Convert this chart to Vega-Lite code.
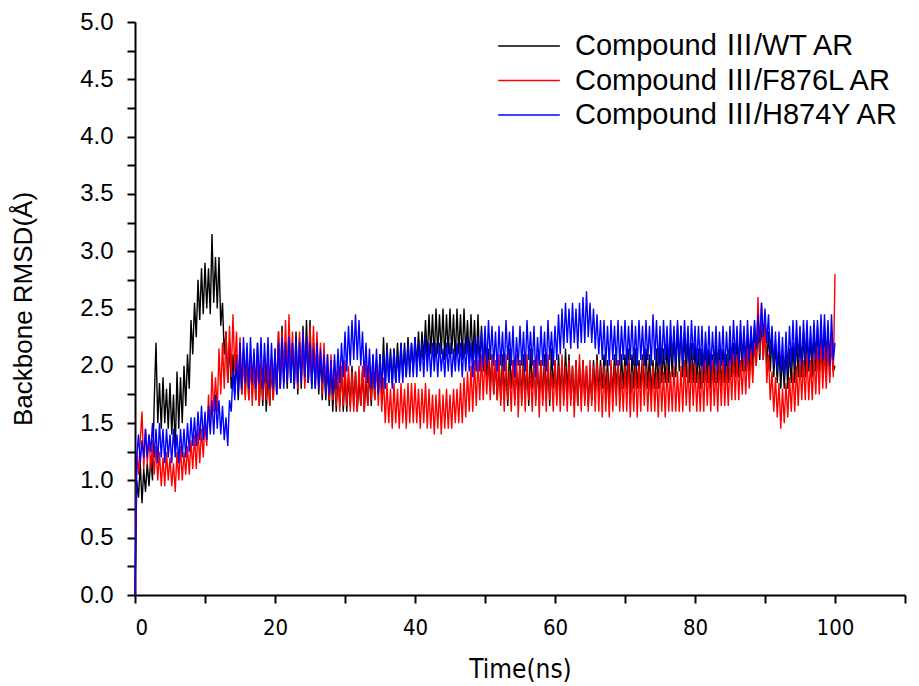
{
"$schema": "https://vega.github.io/schema/vega-lite/v6.json",
"width": 770, "height": 573,
"autosize": {"type": "none"},
"padding": {"left": 135, "top": 22, "right": 14, "bottom": 91},
"config": {"view": {"stroke": null}, "font": "Liberation Sans"},
"data": {"values": [
{"t":0,"a":0,"b":0,"c":0},
{"t":0.25,"a":1.0,"b":1.25,"c":1.2},
{"t":0.5,"a":0.85,"b":1.05,"c":1.4},
{"t":0.75,"a":1.15,"b":1.35,"c":1.15},
{"t":1,"a":0.8,"b":1.6,"c":1.35},
{"t":1.25,"a":1.1,"b":1.1,"c":1.2},
{"t":1.5,"a":0.9,"b":1.45,"c":1.45},
{"t":1.75,"a":1.15,"b":1.15,"c":1.2},
{"t":2,"a":0.95,"b":1.4,"c":1.4},
{"t":2.25,"a":1.2,"b":1.1,"c":1.25},
{"t":2.5,"a":1.0,"b":1.35,"c":1.5},
{"t":2.75,"a":1.7,"b":1.05,"c":1.2},
{"t":3,"a":2.2,"b":1.3,"c":1.45},
{"t":3.25,"a":1.5,"b":1.0,"c":1.15},
{"t":3.5,"a":1.85,"b":1.25,"c":1.5},
{"t":3.75,"a":1.45,"b":0.95,"c":1.2},
{"t":4,"a":1.9,"b":1.2,"c":1.45},
{"t":4.25,"a":1.5,"b":0.95,"c":1.15},
{"t":4.5,"a":1.8,"b":1.25,"c":1.45},
{"t":4.75,"a":1.45,"b":1.0,"c":1.2},
{"t":5,"a":1.85,"b":1.2,"c":1.4},
{"t":5.25,"a":1.4,"b":0.95,"c":1.15},
{"t":5.5,"a":1.75,"b":1.15,"c":1.45},
{"t":5.75,"a":1.25,"b":0.9,"c":1.2},
{"t":6,"a":1.95,"b":1.25,"c":1.4},
{"t":6.25,"a":1.45,"b":1.0,"c":1.15},
{"t":6.5,"a":1.9,"b":1.3,"c":1.45},
{"t":6.75,"a":1.5,"b":1.0,"c":1.2},
{"t":7,"a":2.0,"b":1.25,"c":1.45},
{"t":7.25,"a":1.65,"b":1.05,"c":1.2},
{"t":7.5,"a":2.1,"b":1.3,"c":1.5},
{"t":7.75,"a":1.8,"b":1.05,"c":1.25},
{"t":8,"a":2.4,"b":1.35,"c":1.55},
{"t":8.25,"a":2.1,"b":1.1,"c":1.3},
{"t":8.5,"a":2.55,"b":1.4,"c":1.55},
{"t":8.75,"a":2.25,"b":1.1,"c":1.3},
{"t":9,"a":2.75,"b":1.45,"c":1.6},
{"t":9.25,"a":2.4,"b":1.15,"c":1.35},
{"t":9.5,"a":2.85,"b":1.45,"c":1.65},
{"t":9.75,"a":2.45,"b":1.2,"c":1.35},
{"t":10,"a":2.9,"b":1.5,"c":1.6},
{"t":10.25,"a":2.5,"b":1.3,"c":1.35},
{"t":10.5,"a":2.85,"b":1.75,"c":1.65},
{"t":10.75,"a":2.45,"b":1.45,"c":1.4},
{"t":11,"a":3.15,"b":1.95,"c":1.7},
{"t":11.25,"a":2.55,"b":1.6,"c":1.4},
{"t":11.5,"a":2.95,"b":1.9,"c":1.75},
{"t":11.75,"a":2.5,"b":1.6,"c":1.45},
{"t":12,"a":2.95,"b":2.15,"c":1.7},
{"t":12.25,"a":2.35,"b":1.75,"c":1.4},
{"t":12.5,"a":2.55,"b":2.2,"c":1.65},
{"t":12.75,"a":2.1,"b":1.8,"c":1.35},
{"t":13,"a":2.3,"b":2.3,"c":1.55},
{"t":13.25,"a":1.85,"b":1.85,"c":1.3},
{"t":13.5,"a":2.2,"b":2.35,"c":1.7},
{"t":13.75,"a":1.8,"b":1.9,"c":1.6},
{"t":14,"a":2.1,"b":2.45,"c":1.95},
{"t":14.25,"a":1.75,"b":1.95,"c":1.7},
{"t":14.5,"a":2.1,"b":2.3,"c":2.05},
{"t":14.75,"a":1.7,"b":1.8,"c":1.75},
{"t":15,"a":2.05,"b":2.25,"c":2.2},
{"t":15.25,"a":1.75,"b":1.75,"c":1.8},
{"t":15.5,"a":2.15,"b":2.1,"c":2.25},
{"t":15.75,"a":1.75,"b":1.7,"c":1.85},
{"t":16,"a":2.1,"b":2.15,"c":2.2},
{"t":16.25,"a":1.7,"b":1.7,"c":1.8},
{"t":16.5,"a":2.05,"b":2.1,"c":2.25},
{"t":16.75,"a":1.75,"b":1.65,"c":1.85},
{"t":17,"a":2.1,"b":2.05,"c":2.15},
{"t":17.25,"a":1.7,"b":1.7,"c":1.8},
{"t":17.5,"a":2.2,"b":2.1,"c":2.2},
{"t":17.75,"a":1.65,"b":1.65,"c":1.85},
{"t":18,"a":2.0,"b":2.05,"c":2.25},
{"t":18.25,"a":1.65,"b":1.7,"c":1.8},
{"t":18.5,"a":2.05,"b":2.1,"c":2.2},
{"t":18.75,"a":1.6,"b":1.7,"c":1.85},
{"t":19,"a":1.95,"b":2.1,"c":2.25},
{"t":19.25,"a":1.65,"b":1.65,"c":1.8},
{"t":19.5,"a":2.0,"b":2.05,"c":2.2},
{"t":19.75,"a":1.7,"b":1.7,"c":1.8},
{"t":20,"a":2.1,"b":2.15,"c":2.15},
{"t":20.25,"a":1.75,"b":1.75,"c":1.75},
{"t":20.5,"a":2.3,"b":2.3,"c":2.2},
{"t":20.75,"a":1.8,"b":1.8,"c":1.8},
{"t":21,"a":2.35,"b":2.3,"c":2.25},
{"t":21.25,"a":1.85,"b":1.85,"c":1.8},
{"t":21.5,"a":2.2,"b":2.4,"c":2.2},
{"t":21.75,"a":1.8,"b":1.85,"c":1.85},
{"t":22,"a":2.35,"b":2.45,"c":2.25},
{"t":22.25,"a":1.85,"b":1.9,"c":1.85},
{"t":22.5,"a":2.2,"b":2.3,"c":2.2},
{"t":22.75,"a":1.8,"b":1.85,"c":1.8},
{"t":23,"a":2.3,"b":2.2,"c":2.25},
{"t":23.25,"a":1.75,"b":1.8,"c":1.85},
{"t":23.5,"a":2.25,"b":2.3,"c":2.2},
{"t":23.75,"a":1.8,"b":1.85,"c":1.85},
{"t":24,"a":2.35,"b":2.3,"c":2.3},
{"t":24.25,"a":1.85,"b":1.8,"c":1.9},
{"t":24.5,"a":2.4,"b":2.25,"c":2.25},
{"t":24.75,"a":1.85,"b":1.85,"c":1.85},
{"t":25,"a":2.4,"b":2.35,"c":2.2},
{"t":25.25,"a":1.8,"b":1.85,"c":1.8},
{"t":25.5,"a":2.2,"b":2.35,"c":2.15},
{"t":25.75,"a":1.8,"b":1.85,"c":1.8},
{"t":26,"a":2.2,"b":2.3,"c":2.2},
{"t":26.25,"a":1.75,"b":1.8,"c":1.8},
{"t":26.5,"a":2.1,"b":2.2,"c":2.15},
{"t":26.75,"a":1.7,"b":1.75,"c":1.85},
{"t":27,"a":2.1,"b":2.2,"c":2.1},
{"t":27.25,"a":1.7,"b":1.75,"c":1.75},
{"t":27.5,"a":2.0,"b":2.1,"c":2.1},
{"t":27.75,"a":1.65,"b":1.7,"c":1.75},
{"t":28,"a":2.0,"b":2.1,"c":2.05},
{"t":28.25,"a":1.6,"b":1.7,"c":1.75},
{"t":28.5,"a":1.95,"b":2.05,"c":2.1},
{"t":28.75,"a":1.6,"b":1.65,"c":1.8},
{"t":29,"a":1.95,"b":2.0,"c":2.15},
{"t":29.25,"a":1.65,"b":1.6,"c":1.85},
{"t":29.5,"a":2.0,"b":2.0,"c":2.2},
{"t":29.75,"a":1.6,"b":1.65,"c":1.9},
{"t":30,"a":1.95,"b":2.05,"c":2.3},
{"t":30.25,"a":1.6,"b":1.65,"c":1.95},
{"t":30.5,"a":1.9,"b":2.0,"c":2.35},
{"t":30.75,"a":1.65,"b":1.6,"c":2.0},
{"t":31,"a":2.0,"b":1.95,"c":2.4},
{"t":31.25,"a":1.65,"b":1.6,"c":2.05},
{"t":31.5,"a":1.95,"b":1.95,"c":2.45},
{"t":31.75,"a":1.6,"b":1.6,"c":2.05},
{"t":32,"a":1.9,"b":2.0,"c":2.4},
{"t":32.25,"a":1.65,"b":1.65,"c":2.0},
{"t":32.5,"a":1.95,"b":2.0,"c":2.3},
{"t":32.75,"a":1.6,"b":1.6,"c":1.9},
{"t":33,"a":1.9,"b":2.05,"c":2.2},
{"t":33.25,"a":1.65,"b":1.65,"c":1.85},
{"t":33.5,"a":1.95,"b":2.0,"c":2.15},
{"t":33.75,"a":1.65,"b":1.7,"c":1.8},
{"t":34,"a":2.0,"b":2.1,"c":2.1},
{"t":34.25,"a":1.7,"b":1.7,"c":1.8},
{"t":34.5,"a":2.05,"b":2.05,"c":2.15},
{"t":34.75,"a":1.75,"b":1.65,"c":1.75},
{"t":35,"a":2.1,"b":2.0,"c":2.1},
{"t":35.25,"a":1.75,"b":1.6,"c":1.8},
{"t":35.5,"a":2.25,"b":1.9,"c":2.1},
{"t":35.75,"a":1.8,"b":1.5,"c":1.8},
{"t":36,"a":2.2,"b":1.85,"c":2.15},
{"t":36.25,"a":1.85,"b":1.5,"c":1.85},
{"t":36.5,"a":2.15,"b":1.8,"c":2.1},
{"t":36.75,"a":1.85,"b":1.45,"c":1.8},
{"t":37,"a":2.15,"b":1.85,"c":2.15},
{"t":37.25,"a":1.85,"b":1.5,"c":1.85},
{"t":37.5,"a":2.2,"b":1.8,"c":2.1},
{"t":37.75,"a":1.9,"b":1.45,"c":1.85},
{"t":38,"a":2.2,"b":1.85,"c":2.2},
{"t":38.25,"a":1.9,"b":1.5,"c":1.85},
{"t":38.5,"a":2.2,"b":1.8,"c":2.15},
{"t":38.75,"a":1.9,"b":1.45,"c":1.9},
{"t":39,"a":2.25,"b":1.85,"c":2.2},
{"t":39.25,"a":1.95,"b":1.5,"c":1.9},
{"t":39.5,"a":2.2,"b":1.85,"c":2.2},
{"t":39.75,"a":1.95,"b":1.5,"c":1.9},
{"t":40,"a":2.25,"b":1.85,"c":2.25},
{"t":40.25,"a":2.0,"b":1.5,"c":1.9},
{"t":40.5,"a":2.3,"b":1.8,"c":2.2},
{"t":40.75,"a":2.0,"b":1.45,"c":1.95},
{"t":41,"a":2.3,"b":1.8,"c":2.2},
{"t":41.25,"a":2.05,"b":1.5,"c":1.9},
{"t":41.5,"a":2.4,"b":1.85,"c":2.25},
{"t":41.75,"a":2.05,"b":1.45,"c":1.95},
{"t":42,"a":2.45,"b":1.8,"c":2.2},
{"t":42.25,"a":2.1,"b":1.45,"c":1.9},
{"t":42.5,"a":2.45,"b":1.75,"c":2.2},
{"t":42.75,"a":2.05,"b":1.4,"c":1.95},
{"t":43,"a":2.5,"b":1.75,"c":2.2},
{"t":43.25,"a":2.1,"b":1.45,"c":1.9},
{"t":43.5,"a":2.45,"b":1.8,"c":2.2},
{"t":43.75,"a":2.1,"b":1.4,"c":1.95},
{"t":44,"a":2.5,"b":1.75,"c":2.15},
{"t":44.25,"a":2.05,"b":1.45,"c":1.9},
{"t":44.5,"a":2.45,"b":1.8,"c":2.2},
{"t":44.75,"a":2.1,"b":1.45,"c":1.95},
{"t":45,"a":2.5,"b":1.75,"c":2.2},
{"t":45.25,"a":2.1,"b":1.45,"c":1.9},
{"t":45.5,"a":2.45,"b":1.8,"c":2.15},
{"t":45.75,"a":2.05,"b":1.5,"c":1.95},
{"t":46,"a":2.5,"b":1.8,"c":2.2},
{"t":46.25,"a":2.1,"b":1.5,"c":1.95},
{"t":46.5,"a":2.45,"b":1.85,"c":2.2},
{"t":46.75,"a":2.05,"b":1.5,"c":1.9},
{"t":47,"a":2.5,"b":1.9,"c":2.2},
{"t":47.25,"a":2.1,"b":1.55,"c":1.95},
{"t":47.5,"a":2.4,"b":1.95,"c":2.25},
{"t":47.75,"a":2.05,"b":1.6,"c":1.95},
{"t":48,"a":2.45,"b":2.0,"c":2.2},
{"t":48.25,"a":2.05,"b":1.6,"c":1.9},
{"t":48.5,"a":2.4,"b":2.05,"c":2.25},
{"t":48.75,"a":2.0,"b":1.65,"c":1.95},
{"t":49,"a":2.45,"b":2.05,"c":2.25},
{"t":49.25,"a":2.0,"b":1.7,"c":1.95},
{"t":49.5,"a":2.35,"b":2.1,"c":2.3},
{"t":49.75,"a":1.95,"b":1.7,"c":2.0},
{"t":50,"a":2.3,"b":2.1,"c":2.35},
{"t":50.25,"a":1.9,"b":1.75,"c":2.0},
{"t":50.5,"a":2.15,"b":2.05,"c":2.4},
{"t":50.75,"a":1.8,"b":1.7,"c":2.05},
{"t":51,"a":2.1,"b":2.1,"c":2.35},
{"t":51.25,"a":1.75,"b":1.75,"c":2.0},
{"t":51.5,"a":2.05,"b":2.05,"c":2.3},
{"t":51.75,"a":1.7,"b":1.7,"c":1.95},
{"t":52,"a":2.05,"b":2.1,"c":2.35},
{"t":52.25,"a":1.7,"b":1.65,"c":2.0},
{"t":52.5,"a":2.1,"b":2.0,"c":2.3},
{"t":52.75,"a":1.75,"b":1.6,"c":1.95},
{"t":53,"a":2.0,"b":2.1,"c":2.4},
{"t":53.25,"a":1.65,"b":1.7,"c":2.05},
{"t":53.5,"a":2.15,"b":1.95,"c":2.3},
{"t":53.75,"a":1.8,"b":1.6,"c":2.0},
{"t":54,"a":2.05,"b":2.05,"c":2.35},
{"t":54.25,"a":1.7,"b":1.65,"c":1.9},
{"t":54.5,"a":1.95,"b":2.1,"c":2.25},
{"t":54.75,"a":1.75,"b":1.55,"c":2.0},
{"t":55,"a":2.05,"b":2.05,"c":2.35},
{"t":55.25,"a":1.7,"b":1.65,"c":2.0},
{"t":55.5,"a":2.1,"b":2.0,"c":2.3},
{"t":55.75,"a":1.75,"b":1.6,"c":1.95},
{"t":56,"a":2.0,"b":2.1,"c":2.4},
{"t":56.25,"a":1.65,"b":1.7,"c":2.05},
{"t":56.5,"a":2.15,"b":1.95,"c":2.3},
{"t":56.75,"a":1.8,"b":1.6,"c":2.0},
{"t":57,"a":2.05,"b":2.05,"c":2.35},
{"t":57.25,"a":1.7,"b":1.65,"c":1.9},
{"t":57.5,"a":1.95,"b":2.1,"c":2.25},
{"t":57.75,"a":1.75,"b":1.55,"c":2.0},
{"t":58,"a":2.05,"b":2.05,"c":2.35},
{"t":58.25,"a":1.7,"b":1.65,"c":2.0},
{"t":58.5,"a":2.1,"b":2.0,"c":2.3},
{"t":58.75,"a":1.75,"b":1.6,"c":1.95},
{"t":59,"a":2.0,"b":2.1,"c":2.4},
{"t":59.25,"a":1.65,"b":1.7,"c":2.05},
{"t":59.5,"a":2.15,"b":1.95,"c":2.3},
{"t":59.75,"a":1.8,"b":1.6,"c":2.0},
{"t":60,"a":2.05,"b":2.05,"c":2.35},
{"t":60.25,"a":1.7,"b":1.65,"c":2.05},
{"t":60.5,"a":2.1,"b":2.0,"c":2.45},
{"t":60.75,"a":1.75,"b":1.6,"c":2.1},
{"t":61,"a":2.05,"b":2.1,"c":2.5},
{"t":61.25,"a":1.7,"b":1.65,"c":2.15},
{"t":61.5,"a":2.15,"b":2.0,"c":2.55},
{"t":61.75,"a":1.75,"b":1.6,"c":2.2},
{"t":62,"a":2.1,"b":2.05,"c":2.5},
{"t":62.25,"a":1.7,"b":1.65,"c":2.15},
{"t":62.5,"a":2.0,"b":2.0,"c":2.55},
{"t":62.75,"a":1.65,"b":1.55,"c":2.2},
{"t":63,"a":2.05,"b":2.05,"c":2.5},
{"t":63.25,"a":1.65,"b":1.65,"c":2.15},
{"t":63.5,"a":2.0,"b":2.1,"c":2.55},
{"t":63.75,"a":1.7,"b":1.6,"c":2.2},
{"t":64,"a":2.05,"b":2.05,"c":2.6},
{"t":64.25,"a":1.7,"b":1.65,"c":2.2},
{"t":64.5,"a":2.0,"b":2.0,"c":2.65},
{"t":64.75,"a":1.65,"b":1.6,"c":2.25},
{"t":65,"a":1.95,"b":2.05,"c":2.55},
{"t":65.25,"a":1.7,"b":1.65,"c":2.2},
{"t":65.5,"a":2.05,"b":2.0,"c":2.5},
{"t":65.75,"a":1.75,"b":1.6,"c":2.15},
{"t":66,"a":2.1,"b":2.05,"c":2.45},
{"t":66.25,"a":1.75,"b":1.6,"c":2.1},
{"t":66.5,"a":2.05,"b":2.0,"c":2.4},
{"t":66.75,"a":1.8,"b":1.55,"c":2.05},
{"t":67,"a":2.1,"b":2.0,"c":2.4},
{"t":67.25,"a":1.75,"b":1.6,"c":2.0},
{"t":67.5,"a":2.05,"b":1.95,"c":2.35},
{"t":67.75,"a":1.7,"b":1.55,"c":2.0},
{"t":68,"a":2.0,"b":2.05,"c":2.4},
{"t":68.25,"a":1.75,"b":1.6,"c":2.05},
{"t":68.5,"a":2.1,"b":2.0,"c":2.35},
{"t":68.75,"a":1.8,"b":1.65,"c":2.0},
{"t":69,"a":2.05,"b":2.05,"c":2.4},
{"t":69.25,"a":1.75,"b":1.6,"c":2.0},
{"t":69.5,"a":2.1,"b":1.95,"c":2.35},
{"t":69.75,"a":1.8,"b":1.6,"c":2.05},
{"t":70,"a":2.1,"b":2.0,"c":2.4},
{"t":70.25,"a":1.8,"b":1.6,"c":2.0},
{"t":70.5,"a":2.15,"b":2.05,"c":2.35},
{"t":70.75,"a":1.75,"b":1.55,"c":2.05},
{"t":71,"a":2.1,"b":1.95,"c":2.4},
{"t":71.25,"a":1.8,"b":1.6,"c":2.0},
{"t":71.5,"a":2.15,"b":2.0,"c":2.35},
{"t":71.75,"a":1.8,"b":1.55,"c":2.0},
{"t":72,"a":2.05,"b":2.0,"c":2.4},
{"t":72.25,"a":1.8,"b":1.6,"c":2.05},
{"t":72.5,"a":2.1,"b":2.05,"c":2.35},
{"t":72.75,"a":1.75,"b":1.65,"c":2.0},
{"t":73,"a":2.15,"b":2.0,"c":2.4},
{"t":73.25,"a":1.8,"b":1.6,"c":2.05},
{"t":73.5,"a":2.1,"b":1.95,"c":2.35},
{"t":73.75,"a":1.75,"b":1.6,"c":2.0},
{"t":74,"a":2.05,"b":2.0,"c":2.45},
{"t":74.25,"a":1.8,"b":1.6,"c":2.05},
{"t":74.5,"a":2.15,"b":1.95,"c":2.4},
{"t":74.75,"a":1.8,"b":1.55,"c":2.0},
{"t":75,"a":2.2,"b":2.0,"c":2.35},
{"t":75.25,"a":1.85,"b":1.6,"c":2.0},
{"t":75.5,"a":2.15,"b":1.95,"c":2.4},
{"t":75.75,"a":1.85,"b":1.55,"c":2.05},
{"t":76,"a":2.2,"b":2.0,"c":2.35},
{"t":76.25,"a":1.85,"b":1.6,"c":2.0},
{"t":76.5,"a":2.25,"b":1.95,"c":2.4},
{"t":76.75,"a":1.9,"b":1.6,"c":2.05},
{"t":77,"a":2.3,"b":2.0,"c":2.35},
{"t":77.25,"a":1.9,"b":1.6,"c":2.0},
{"t":77.5,"a":2.35,"b":1.95,"c":2.4},
{"t":77.75,"a":1.95,"b":1.6,"c":2.05},
{"t":78,"a":2.35,"b":2.0,"c":2.35},
{"t":78.25,"a":1.9,"b":1.6,"c":2.0},
{"t":78.5,"a":2.3,"b":2.05,"c":2.4},
{"t":78.75,"a":1.9,"b":1.65,"c":2.05},
{"t":79,"a":2.25,"b":2.0,"c":2.35},
{"t":79.25,"a":1.85,"b":1.6,"c":2.0},
{"t":79.5,"a":2.2,"b":2.05,"c":2.4},
{"t":79.75,"a":1.85,"b":1.65,"c":2.05},
{"t":80,"a":2.2,"b":2.0,"c":2.35},
{"t":80.25,"a":1.85,"b":1.6,"c":2.0},
{"t":80.5,"a":2.15,"b":1.95,"c":2.35},
{"t":80.75,"a":1.8,"b":1.6,"c":2.0},
{"t":81,"a":2.15,"b":2.0,"c":2.35},
{"t":81.25,"a":1.85,"b":1.6,"c":1.95},
{"t":81.5,"a":2.2,"b":2.05,"c":2.3},
{"t":81.75,"a":1.85,"b":1.65,"c":2.0},
{"t":82,"a":2.15,"b":2.0,"c":2.35},
{"t":82.25,"a":1.8,"b":1.6,"c":1.95},
{"t":82.5,"a":2.1,"b":2.05,"c":2.3},
{"t":82.75,"a":1.85,"b":1.65,"c":2.0},
{"t":83,"a":2.2,"b":2.0,"c":2.35},
{"t":83.25,"a":1.85,"b":1.6,"c":1.95},
{"t":83.5,"a":2.15,"b":2.05,"c":2.3},
{"t":83.75,"a":1.8,"b":1.65,"c":2.0},
{"t":84,"a":2.15,"b":2.05,"c":2.35},
{"t":84.25,"a":1.85,"b":1.65,"c":1.95},
{"t":84.5,"a":2.1,"b":2.0,"c":2.3},
{"t":84.75,"a":1.85,"b":1.65,"c":2.0},
{"t":85,"a":2.2,"b":2.05,"c":2.35},
{"t":85.25,"a":1.9,"b":1.7,"c":2.0},
{"t":85.5,"a":2.2,"b":2.1,"c":2.4},
{"t":85.75,"a":1.9,"b":1.7,"c":2.05},
{"t":86,"a":2.25,"b":2.1,"c":2.35},
{"t":86.25,"a":1.9,"b":1.7,"c":2.0},
{"t":86.5,"a":2.3,"b":2.05,"c":2.4},
{"t":86.75,"a":1.95,"b":1.75,"c":2.05},
{"t":87,"a":2.3,"b":2.1,"c":2.35},
{"t":87.25,"a":1.95,"b":1.75,"c":2.0},
{"t":87.5,"a":2.25,"b":2.15,"c":2.4},
{"t":87.75,"a":1.9,"b":1.8,"c":2.05},
{"t":88,"a":2.3,"b":2.15,"c":2.35},
{"t":88.25,"a":1.95,"b":1.85,"c":2.1},
{"t":88.5,"a":2.35,"b":2.2,"c":2.4},
{"t":88.75,"a":2.0,"b":2.0,"c":2.15},
{"t":89,"a":2.35,"b":2.6,"c":2.45},
{"t":89.25,"a":2.05,"b":2.1,"c":2.2},
{"t":89.5,"a":2.4,"b":2.55,"c":2.55},
{"t":89.75,"a":2.05,"b":2.05,"c":2.25},
{"t":90,"a":2.35,"b":2.4,"c":2.5},
{"t":90.25,"a":2.0,"b":1.85,"c":2.2},
{"t":90.5,"a":2.3,"b":2.1,"c":2.45},
{"t":90.75,"a":1.95,"b":1.7,"c":2.1},
{"t":91,"a":2.25,"b":1.95,"c":2.35},
{"t":91.25,"a":1.9,"b":1.6,"c":2.0},
{"t":91.5,"a":2.2,"b":1.9,"c":2.3},
{"t":91.75,"a":1.85,"b":1.55,"c":1.95},
{"t":92,"a":2.15,"b":1.85,"c":2.3},
{"t":92.25,"a":1.8,"b":1.45,"c":1.95},
{"t":92.5,"a":2.1,"b":1.8,"c":2.25},
{"t":92.75,"a":1.8,"b":1.5,"c":1.9},
{"t":93,"a":2.15,"b":1.85,"c":2.3},
{"t":93.25,"a":1.8,"b":1.55,"c":1.95},
{"t":93.5,"a":2.15,"b":1.9,"c":2.35},
{"t":93.75,"a":1.85,"b":1.6,"c":2.0},
{"t":94,"a":2.2,"b":1.95,"c":2.4},
{"t":94.25,"a":1.85,"b":1.6,"c":2.0},
{"t":94.5,"a":2.25,"b":2.0,"c":2.4},
{"t":94.75,"a":1.9,"b":1.65,"c":2.05},
{"t":95,"a":2.25,"b":2.05,"c":2.35},
{"t":95.25,"a":1.9,"b":1.7,"c":2.0},
{"t":95.5,"a":2.3,"b":2.05,"c":2.4},
{"t":95.75,"a":1.9,"b":1.7,"c":2.05},
{"t":96,"a":2.3,"b":2.1,"c":2.4},
{"t":96.25,"a":1.95,"b":1.7,"c":2.0},
{"t":96.5,"a":2.25,"b":2.05,"c":2.35},
{"t":96.75,"a":1.9,"b":1.7,"c":2.05},
{"t":97,"a":2.3,"b":2.1,"c":2.4},
{"t":97.25,"a":1.95,"b":1.75,"c":2.05},
{"t":97.5,"a":2.35,"b":2.15,"c":2.4},
{"t":97.75,"a":1.95,"b":1.75,"c":2.05},
{"t":98,"a":2.3,"b":2.2,"c":2.45},
{"t":98.25,"a":1.95,"b":1.8,"c":2.05},
{"t":98.5,"a":2.35,"b":2.15,"c":2.45},
{"t":98.75,"a":1.95,"b":1.8,"c":2.05},
{"t":99,"a":2.3,"b":2.2,"c":2.4},
{"t":99.25,"a":1.9,"b":1.85,"c":2.0},
{"t":99.5,"a":2.25,"b":2.3,"c":2.45},
{"t":99.75,"a":1.95,"b":1.9,"c":2.05},
{"t":100,"a":2.0,"b":2.8,"c":2.2}
]},
"transform": [{"fold": ["a", "b", "c"], "as": ["series", "rmsd"]}],
"mark": {"type": "line", "strokeWidth": 1.4, "clip": false},
"encoding": {
  "x": {"field": "t", "type": "quantitative",
    "scale": {"domain": [0, 110], "nice": false, "zero": false},
    "axis": {"values": [0,10,20,30,40,50,60,70,80,90,100,110],
      "labelExpr": "datum.value % 20 === 0 && datum.value <= 100 ? datum.label : ''",
      "grid": false, "domainColor": "#000", "domainWidth": 2, "tickColor": "#000", "tickWidth": 2, "tickSize": 8,
      "labelFont": "DejaVu Sans Condensed, Liberation Sans", "labelFontSize": 22, "labelColor": "#000", "labelPadding": 14,
      "title": "Time(ns)", "titleFont": "DejaVu Sans Condensed, Liberation Sans", "titleFontSize": 26, "titleFontWeight": "normal", "titleColor": "#000", "titlePadding": 18,
      "encode": {"ticks": {"update": {"y2": {"signal": "datum.value % 20 === 0 ? 8 : 4"}}}}}},
  "y": {"field": "rmsd", "type": "quantitative",
    "scale": {"domain": [0, 5], "nice": false},
    "axis": {"values": [0,0.25,0.5,0.75,1,1.25,1.5,1.75,2,2.25,2.5,2.75,3,3.25,3.5,3.75,4,4.25,4.5,4.75,5],
      "labelExpr": "round(datum.value*4) % 2 === 0 ? format(datum.value, '.1f') : ''",
      "grid": false, "domainColor": "#000", "domainWidth": 2, "tickColor": "#000", "tickWidth": 2, "tickSize": 8,
      "labelFont": "Liberation Sans", "labelFontSize": 24, "labelColor": "#000", "labelPadding": 14,
      "title": "Backbone RMSD(Å)", "titleFont": "Liberation Sans", "titleFontSize": 26, "titleFontWeight": "normal", "titleColor": "#000", "titlePadding": 43,
      "encode": {"ticks": {"update": {"x2": {"signal": "round(datum.value*4) % 2 === 0 ? -8 : -4"}}}}}},
  "color": {"field": "series", "type": "nominal",
    "scale": {"domain": ["a", "b", "c"], "range": ["#000000", "#ff0000", "#0000ff"]},
    "legend": {"orient": "none", "legendX": 362, "legendY": 9, "title": null,
      "labelExpr": "datum.value === 'a' ? 'Compound Ⅲ/WT AR' : datum.value === 'b' ? 'Compound Ⅲ/F876L AR' : 'Compound Ⅲ/H874Y AR'",
      "symbolType": "stroke", "symbolSize": 3800, "symbolStrokeWidth": 1.5, "clipHeight": 30,
      "labelFont": "Liberation Sans, Noto Sans CJK SC", "labelFontSize": 29, "labelColor": "#000", "labelOffset": 14, "labelLimit": 500, "rowPadding": 4.5}}
}
}
